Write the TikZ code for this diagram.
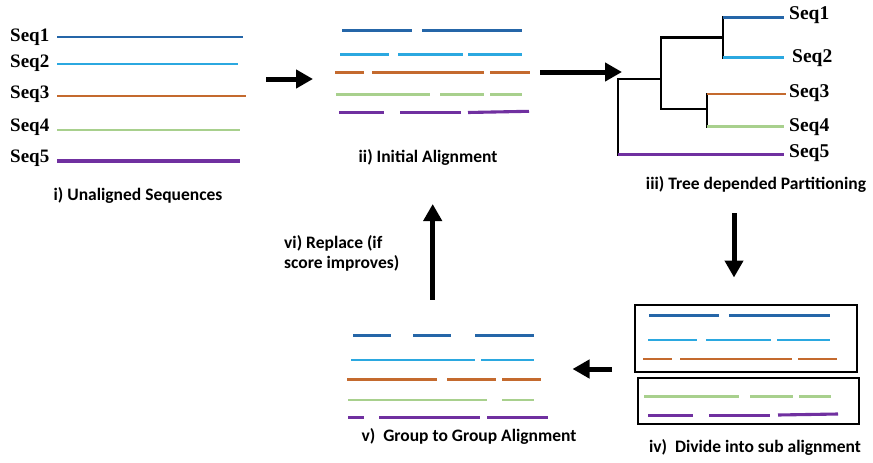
\documentclass[tikz,border=0pt]{standalone}
\usepackage{fontspec}
\setmainfont{Carlito}
\newfontfamily\seqfont{Liberation Serif}
\usetikzlibrary{arrows.meta}

\definecolor{sqA}{HTML}{2566A8}
\definecolor{sqB}{HTML}{2BA8E0}
\definecolor{sqC}{HTML}{C46A2E}
\definecolor{sqD}{HTML}{A8D08D}
\definecolor{sqE}{HTML}{7030A0}

\tikzset{
  sA/.style={draw=sqA, line width=2.9pt},
  sB/.style={draw=sqB, line width=2.8pt},
  sC/.style={draw=sqC, line width=2.9pt},
  sD/.style={draw=sqD, line width=2.5pt},
  sE/.style={draw=sqE, line width=3.1pt},
  caption/.style={font=\fontsize{17.5}{20.5}\selectfont\bfseries, inner sep=0pt},
  seqlabel/.style={font=\seqfont\fontsize{19}{21}\selectfont\bfseries, inner sep=0pt, anchor=west},
  treelabel/.style={font=\seqfont\fontsize{19.5}{22}\selectfont\bfseries, inner sep=0pt, anchor=west},
  treeline/.style={draw=black, line width=2.4pt, line cap=rect},
  flow/.style={draw=black, line width=5pt, -{Triangle[length=17pt,width=18pt]}},
  subbox/.style={draw=black, line width=1.8pt},
}

% draw a row of gapped segments: style, y, list of x1/x2
\newcommand\segrow[3]{\foreach \xa/\xb in {#3} \draw[#1] (\xa,#2) -- (\xb,#2);}

\begin{document}
\begin{tikzpicture}[x=1pt,y=-1pt]
\useasboundingbox (0,0) rectangle (873,463);

% ---------- i) unaligned sequences ----------
\node[seqlabel] (l1) at (10,37) {Seq1};
\node[seqlabel] (l2) at (10,63) {Seq2};
\node[seqlabel] (l3) at (10,94) {Seq3};
\node[seqlabel] (l4) at (10,127) {Seq4};
\node[seqlabel] (l5) at (10,158) {Seq5};
\draw[sA] (57,37) -- (243,37);
\draw[sB] (57,64) -- (238,64);
\draw[sC] (57,96) -- (246,96);
\draw[sD] (57,130) -- (240,130);
\draw[sE] (57,161) -- (240,161);
\node[caption] (capI) at (138,195) {i) Unaligned Sequences};

% ---------- ii) initial alignment ----------
\segrow{sA}{30.5}{342/412, 422/522}
\segrow{sB}{54.7}{340/389, 398/463, 468/522}
\segrow{sC}{72.7}{335/364, 372/484, 490/530}
\segrow{sD}{94.3}{336/430, 440/484, 490/522}
\segrow{sE}{112.7}{339/384, 400/461}
\draw[sE] (468,112.5) -- (529,111.3);
\node[caption] (capII) at (428,157) {ii) Initial Alignment};

% ---------- iii) guide tree ----------
\coordinate (root) at (617.7,79);
\coordinate (nA) at (661,79);
\coordinate (nB) at (722.7,37.3);
\coordinate (nC) at (706.7,109);
\draw[treeline] (617.7,154.3) -- (root) -- (nA);
\draw[treeline] (661,37.3) -- (661,109);
\draw[treeline] (661,37.3) -- (nB);
\draw[treeline] (661,109) -- (nC);
\draw[treeline] (722.7,17.3) -- (722.7,57.3);
\draw[treeline] (706.7,94) -- (706.7,126.7);
\draw[sA] (722.7,17.3) -- (784,17.3);
\draw[sB] (722.7,57.3) -- (784,57.3);
\draw[sC] (706.7,94) -- (786,94);
\draw[sD] (706.7,126.7) -- (784,126.7);
\draw[sE] (617.7,154.3) -- (784,154.3);
\draw[treeline, line cap=butt] (617.7,153) -- (617.7,79);
\node[treelabel] (t1) at (789,15) {Seq1};
\node[treelabel] (t2) at (792,58) {Seq2};
\node[treelabel] (t3) at (789,93) {Seq3};
\node[treelabel] (t4) at (789,127) {Seq4};
\node[treelabel] (t5) at (789,153) {Seq5};
\node[caption] (capIII) at (756,184) {iii) Tree depended Partitioning};

% ---------- iv) sub-alignments ----------
\node[subbox, minimum width=222.3pt, minimum height=67.3pt, inner sep=0pt] (boxA) at (746.2,338.7) {};
\node[subbox, minimum width=221pt, minimum height=45.7pt, inner sep=0pt] (boxB) at (748.8,401.2) {};
\segrow{sA}{315.3}{649/719, 729/830}
\segrow{sB}{340}{648/697, 706/771, 777/830}
\segrow{sC}{359}{643/672, 680/792, 798/837}
\segrow{sD}{396.7}{644/739, 750/793, 799/831}
\segrow{sE}{415.3}{648/693, 709/770}
\draw[sE] (778,415) -- (838,414);
\node[caption] (capIV) at (755,447) {iv)\ \ Divide into sub alignment};

% ---------- v) group-to-group alignment ----------
\segrow{sA}{335.7}{353/391, 413/451, 475/534}
\segrow{sB}{360}{351/475, 481/534}
\segrow{sC}{379.3}{347/437, 447/496, 502/541}
\segrow{sD}{400}{348/487, 502/534}
\segrow{sE}{417.7}{348/364, 379/480, 487/548}
\node[caption] (capV) at (469,436) {v)\ \ Group to Group Alignment};

% ---------- vi) refinement label ----------
\node[caption, anchor=north west, align=left] (capVI) at (284,235) {vi) Replace (if\\score improves)};

% ---------- flow arrows ----------
\coordinate (aIs) at (266,79);    \coordinate (aIe) at (313,79);
\coordinate (aIIs) at (540,72);   \coordinate (aIIe) at (622,72);
\coordinate (aIIIs) at (734,213); \coordinate (aIIIe) at (734,277.5);
\coordinate (aIVs) at (612,369);  \coordinate (aIVe) at (572.5,369);
\coordinate (aVs) at (432.7,299.5); \coordinate (aVe) at (432.7,204);
\draw[flow] (aIs) -- (aIe);
\draw[flow] (aIIs) -- (aIIe);
\draw[flow] (aIIIs) -- (aIIIe);
\draw[flow] (aIVs) -- (aIVe);
\draw[flow] (aVs) -- (aVe);
\end{tikzpicture}
\end{document}
